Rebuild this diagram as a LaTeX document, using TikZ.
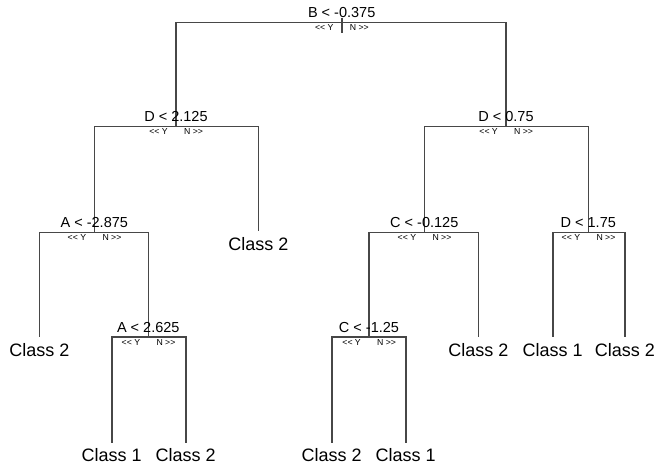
\documentclass[tikz,border=0pt]{standalone}
\usepackage{fontspec}
\setmainfont{Liberation Sans}
\begin{document}
\begin{tikzpicture}[x=1pt,y=-1pt,
  edge/.style={draw=black!72,line width=1.6pt},
  splitlab/.style={anchor=base,inner sep=0pt,font=\fontsize{14.5}{16}\selectfont},
  ylab/.style={anchor=base east,inner sep=0pt,font=\fontsize{8.7}{9}\selectfont},
  nlab/.style={anchor=base west,inner sep=0pt,font=\fontsize{8.7}{9}\selectfont},
  leaf/.style={anchor=north,inner xsep=1pt,inner ysep=6pt,outer sep=0pt,font=\fontsize{18}{20}\selectfont}]
\useasboundingbox (0,0) rectangle (657,465);
% split points (centres of horizontal bars)
\coordinate (s0) at (341.7,22.7);
\coordinate (s1) at (176,126.7);
\coordinate (s2) at (506,126.7);
\coordinate (s3) at (94.3,232.7);
\coordinate (s4) at (424.3,232.7);
\coordinate (s5) at (588.3,232.7);
\coordinate (s6) at (148.3,337.3);
\coordinate (s7) at (369,337.3);
\coordinate (roottop) at (341.7,18);
\coordinate (rootbot) at (341.7,33);
% leaves
\node[leaf] (l1) at (258.3,231) {Class 2};
\node[leaf] (l2) at (39.3,337.3) {Class 2};
\node[leaf] (l3) at (478.3,337.3) {Class 2};
\node[leaf] (l4) at (552.7,337.3) {Class 1};
\node[leaf] (l5) at (625,337.3) {Class 2};
\node[leaf] (l6) at (111.7,442.7) {Class 1};
\node[leaf] (l7) at (185.7,442.7) {Class 2};
\node[leaf] (l8) at (331.7,442.7) {Class 2};
\node[leaf] (l9) at (405.7,442.7) {Class 1};
% connectors
\draw[edge] (roottop) -- (rootbot);
\draw[edge] (s0) -| (s1);
\draw[edge] (s0) -| (s2);
\draw[edge] (s1) -| (s3);
\draw[edge] (s1) -| (l1.north);
\draw[edge] (s2) -| (s4);
\draw[edge] (s2) -| (s5);
\draw[edge] (s3) -| (l2.north);
\draw[edge] (s3) -| (s6);
\draw[edge] (s4) -| (s7);
\draw[edge] (s4) -| (l3.north);
\draw[edge] (s5) -| (l4.north);
\draw[edge] (s5) -| (l5.north);
\draw[edge] (s6) -| (l6.north);
\draw[edge] (s6) -| (l7.north);
\draw[edge] (s7) -| (l8.north);
\draw[edge] (s7) -| (l9.north);
% split labels
\foreach \s/\t in {s0/{B < -0.375},s1/{D < 2.125},s2/{D < 0.75},s3/{A < -2.875},s4/{C < -0.125},s5/{D < 1.75},s6/{A < 2.625},s7/{C < -1.25}}{
  \node[splitlab] (\s t) at ([yshift=5pt]\s) {\t};
  \node[ylab] (\s y) at ([xshift=-8pt,yshift=-8.3pt]\s) {<{}< Y};
  \node[nlab] (\s n) at ([xshift=8pt,yshift=-8.3pt]\s) {N >{}>};
}
\end{tikzpicture}
\end{document}
